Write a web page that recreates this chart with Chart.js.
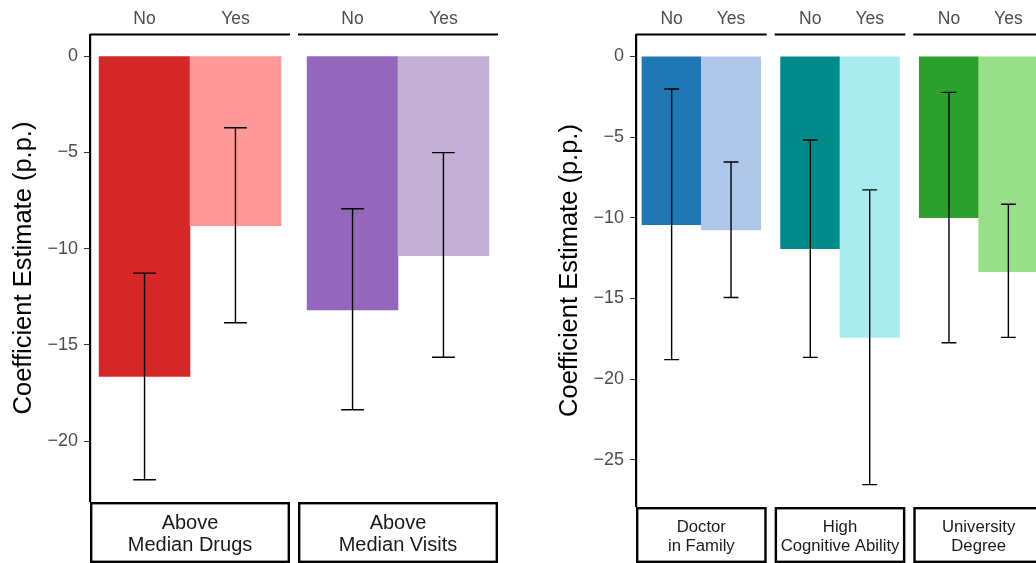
<!DOCTYPE html>
<html>
<head>
<meta charset="utf-8">
<script src="https://cdn.jsdelivr.net/npm/chart.js@4"></script>
<style>
  html, body { margin: 0; padding: 0; background: #fff; overflow: hidden; width: 1036px; height: 563px; }
  canvas { position: absolute; top: 0; }
  #leftPanel { left: 0; }
  #rightPanel { left: 546px; }
</style>
</head>
<body>
<canvas id="leftPanel" width="520" height="563"></canvas>
<canvas id="rightPanel" width="520" height="563"></canvas>
<script>
// ---- data ----
const levels = ['No', 'Yes'];

const leftFacets = [['Above', 'Median Drugs'], ['Above', 'Median Visits']];
const leftEstimate = [-16.64, -8.80, -13.18, -10.36];
const leftLower = [-22.01, -13.85, -18.37, -15.64];
const leftUpper = [-11.27, -3.72, -7.93, -5.01];
const leftColors = ['#d62728', '#ff9896', '#9467bd', '#c5b0d5'];
const leftTicks = [0, -5, -10, -15, -20];

const rightFacets = [['Doctor', 'in Family'], ['High', 'Cognitive Ability'], ['University', 'Degree']];
const rightEstimate = [-10.42, -10.75, -11.92, -17.41, -9.99, -13.33];
const rightLower = [-18.79, -14.94, -18.65, -26.53, -17.74, -17.41];
const rightUpper = [-2.02, -6.54, -5.18, -8.27, -2.23, -9.16];
const rightColors = ['#1f77b4', '#aec7e8', '#008b8b', '#a9ecee', '#2ca02c', '#98df8a'];
const rightTicks = [0, -5, -10, -15, -20, -25];

// ---- layout constants ----
const FONT = '"Liberation Sans", Arial, Helvetica, sans-serif';
const PANEL_W = 408;      // width of the plotting region that holds all facets
const FACET_GAP = 8;      // pixels between neighbouring facets
const EXPAND = 0.6;       // discrete-axis padding on each side of a facet
const AXIS_W = 90;        // room for the y axis title and tick labels
const TOP_H = 35;         // room for the No / Yes labels

// positions of facets and bars on a continuous x scale
function facetLayout(n) {
  const span = levels.length - 1 + 2 * EXPAND;
  const unit = (PANEL_W - (n - 1) * FACET_GAP) / (n * span);
  const gap = FACET_GAP / unit;
  const facets = [];
  const xs = [];
  for (let f = 0; f < n; f++) {
    const start = f * (span + gap);
    facets.push([start, start + span]);
    levels.forEach((_, i) => xs.push(start + EXPAND + i));
  }
  return { facets, xs, min: 0, max: facets[n - 1][1] };
}

// error bars, facet top rules and bottom strip labels
const facetDecor = {
  id: 'facetDecor',
  afterDatasetsDraw(chart, args, o) {
    const { ctx } = chart;
    const xS = chart.scales.x, yS = chart.scales.y;
    ctx.save();
    ctx.strokeStyle = '#000';
    ctx.lineWidth = 1.4;
    o.xs.forEach((xv, i) => {
      const x = xS.getPixelForValue(xv);
      const half = xS.getPixelForValue(xv + 0.125) - x;
      const yl = yS.getPixelForValue(o.lower[i]);
      const yu = yS.getPixelForValue(o.upper[i]);
      ctx.beginPath();
      ctx.moveTo(x, yu); ctx.lineTo(x, yl);
      ctx.moveTo(x - half, yu); ctx.lineTo(x + half, yu);
      ctx.moveTo(x - half, yl); ctx.lineTo(x + half, yl);
      ctx.stroke();
    });
    ctx.restore();
  },
  afterDraw(chart, args, o) {
    const { ctx, chartArea } = chart;
    const xS = chart.scales.x;
    ctx.save();
    o.facets.forEach((fr, f) => {
      const x0 = xS.getPixelForValue(fr[0]);
      const x1 = xS.getPixelForValue(fr[1]);
      // top axis rule of the facet
      ctx.strokeStyle = '#000';
      ctx.lineWidth = 2.2;
      ctx.beginPath();
      ctx.moveTo(x0, chartArea.top - 0.5);
      ctx.lineTo(x1, chartArea.top - 0.5);
      ctx.stroke();
      // strip box
      const top = o.stripTop, bottom = o.stripBottom;
      ctx.lineWidth = 2.4;
      ctx.strokeRect(x0 + 1.2, top + 1.2, x1 - x0 - 2.4, bottom - top - 2.4);
      // strip text
      ctx.fillStyle = '#1a1a1a';
      ctx.font = o.stripFont + 'px ' + FONT;
      ctx.textAlign = 'center';
      ctx.textBaseline = 'middle';
      const cx = (x0 + x1) / 2;
      const cy = (top + bottom) / 2 + 2;
      const lines = o.labels[f];
      lines.forEach((t, k) => {
        const y = cy + (k - (lines.length - 1) / 2) * o.stripLine;
        ctx.fillText(t, cx, y);
      });
    });
    ctx.restore();
  }
};

function minusLabel(v) {
  return v < 0 ? '\u2212' + Math.abs(v) : String(v);
}

function buildPanel(id, facetLabels, est, lower, upper, colors, ticks, strip) {
  const lay = facetLayout(facetLabels.length);
  const lo = Math.min(0, ...lower, ...est);
  const hi = Math.max(0, ...upper, ...est);
  const pad = (hi - lo) * 0.05;
  new Chart(document.getElementById(id), {
    type: 'bar',
    data: {
      datasets: [{
        data: est.map((v, i) => ({ x: lay.xs[i], y: v })),
        backgroundColor: colors,
        borderWidth: 0,
        barPercentage: 1,
        categoryPercentage: 1
      }]
    },
    options: {
      responsive: false,
      animation: false,
      events: [],
      layout: { padding: { left: 0, top: 0, right: 520 - AXIS_W - PANEL_W, bottom: 563 - strip.panelBottom } },
      plugins: {
        legend: { display: false },
        tooltip: { enabled: false },
        facetDecor: {
          facets: lay.facets, xs: lay.xs, lower, upper, labels: facetLabels,
          stripTop: strip.top, stripBottom: strip.bottom, stripFont: strip.font, stripLine: strip.line
        }
      },
      scales: {
        x: {
          type: 'linear',
          position: 'top',
          offset: false,
          min: lay.min,
          max: lay.max,
          grid: { display: false, offset: false },
          border: { display: false },
          afterBuildTicks: s => { s.ticks = lay.xs.map(v => ({ value: v })); },
          afterFit: s => { s.height = TOP_H; },
          ticks: {
            autoSkip: false,
            maxRotation: 0,
            padding: -3,
            color: '#4d4d4d',
            font: { family: FONT, size: 17.5 },
            callback: (v, i) => levels[i % levels.length]
          }
        },
        y: {
          type: 'linear',
          min: lo - pad,
          max: hi + pad,
          afterBuildTicks: s => { s.ticks = ticks.map(v => ({ value: v })); },
          afterFit: s => { s.width = AXIS_W; },
          grid: { display: true, drawOnChartArea: false, drawTicks: true, tickLength: 6, color: '#333', lineWidth: 1 },
          border: { display: true, color: '#000', width: 2.2 },
          ticks: {
            padding: 6,
            color: '#4d4d4d',
            font: { family: FONT, size: 18 },
            callback: v => minusLabel(v)
          },
          title: {
            display: true,
            text: 'Coefficient Estimate (p.p.)',
            color: '#000',
            font: { family: FONT, size: 25.5 },
            padding: { top: 9, bottom: 0 }
          }
        }
      }
    },
    plugins: [facetDecor]
  });
}

buildPanel('leftPanel', leftFacets, leftEstimate, leftLower, leftUpper, leftColors, leftTicks,
  { panelBottom: 501, top: 502, bottom: 563, font: 20, line: 22 });
buildPanel('rightPanel', rightFacets, rightEstimate, rightLower, rightUpper, rightColors, rightTicks,
  { panelBottom: 506, top: 507, bottom: 563, font: 16.7, line: 19.5 });
</script>
</body>
</html>
